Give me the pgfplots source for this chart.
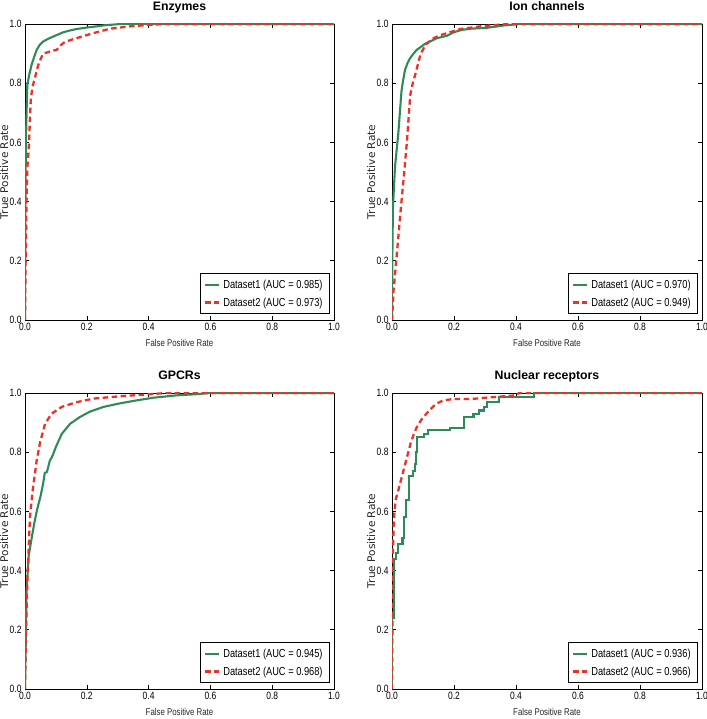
\documentclass[border=0pt]{standalone}
\usepackage{pgfplots}
\pgfplotsset{compat=1.18}
\usepackage{fontspec}
\setmainfont{Liberation Sans}
\newfontfamily\narrowfont[FakeStretch=0.8]{Liberation Sans}
\newfontfamily\labelfont{DejaVu Sans}
\definecolor{rocgreen}{RGB}{46,139,87}
\definecolor{rocred}{RGB}{236,50,36}
\pgfplotsset{
  rocax/.style={
    scale only axis, width=309bp, height=296bp,
    xmin=0, xmax=1, ymin=0, ymax=1,
    xtick={0,0.2,0.4,0.6,0.8,1}, ytick={0,0.2,0.4,0.6,0.8,1},
    xticklabels={0.0,0.2,0.4,0.6,0.8,1.0},
    yticklabels={0.0,0.2,0.4,0.6,0.8,1.0},
    tick align=inside, major tick length=4bp,
    tick style={black, line width=0.6bp},
    axis line style={black, line width=0.8bp},
    ticklabel style={font=\narrowfont\fontsize{10.6bp}{12bp}\selectfont},
    xlabel={False Positive Rate}, ylabel={True Positive Rate},
    xlabel style={at={(axis description cs:0.5,-0.078)}, anchor=center,
      font=\narrowfont\fontsize{9.8bp}{11bp}\selectfont, text=black!85},
    ylabel style={at={(axis description cs:-0.067,0.5)}, anchor=center,
      font=\labelfont\fontsize{10.6bp}{12bp}\selectfont, text=black!85},
    title style={at={(axis description cs:0.5,1.044)}, anchor=base, yshift=-6pt,
      font=\bfseries\fontsize{12.3bp}{14bp}\selectfont},
    legend cell align=left,
    legend style={at={(axis description cs:1,0)}, anchor=south east,
      xshift=-4bp, yshift=6bp, draw=black, line width=0.8bp, fill=white,
      font=\narrowfont\fontsize{11.6bp}{13bp}\selectfont,
      inner xsep=4bp, inner ysep=4.5bp, row sep=5bp,
      nodes={inner xsep=3bp, inner ysep=1.5bp}},
    legend image code/.code={\draw[#1] (0bp,0bp) -- (14bp,0bp);},
  },
  g/.style={rocgreen, line width=2.1bp, line join=round},
  r/.style={rocred, line width=2.3bp, dash pattern=on 5.5bp off 3.5bp},
}
\begin{document}
\begin{tikzpicture}
\useasboundingbox (0,0) rectangle (707bp,719bp);
% Enzymes
\begin{axis}[rocax, at={(25bp,399bp)}, anchor=south west, title={Enzymes}]
\addplot[g] coordinates {(0,0) (0.001,0.3) (0.002,0.5) (0.004,0.65) (0.006,0.74) (0.0075,0.795) (0.014,0.83) (0.0216,0.863) (0.03,0.89) (0.038,0.913) (0.048,0.93) (0.059,0.941) (0.075,0.95) (0.092,0.958) (0.11,0.966) (0.124,0.972) (0.145,0.978) (0.167,0.983) (0.2,0.988) (0.232,0.992) (0.26,0.996) (0.286,0.998) (0.31,1) (1,1)};
\addlegendentry{Dataset1 (AUC = 0.985)}
\addplot[r] coordinates {(0,0) (0.002,0.2) (0.005,0.4) (0.008,0.52) (0.013,0.592) (0.016,0.68) (0.019,0.75) (0.025,0.79) (0.032,0.818) (0.043,0.862) (0.052,0.885) (0.059,0.9) (0.075,0.905) (0.092,0.91) (0.103,0.913) (0.114,0.927) (0.126,0.937) (0.145,0.945) (0.167,0.952) (0.195,0.961) (0.221,0.969) (0.25,0.977) (0.275,0.984) (0.34,0.992) (0.415,0.998) (0.45,1) (1,1)};
\addlegendentry{Dataset2 (AUC = 0.973)}
\end{axis}
% Ion channels
\begin{axis}[rocax, at={(392bp,399bp)}, anchor=south west, width=310bp, title={Ion channels}]
\addplot[g] coordinates {(0,0) (0.001,0.2) (0.003,0.38) (0.0097,0.518) (0.0204,0.631) (0.026,0.71) (0.031,0.777) (0.036,0.81) (0.042,0.845) (0.05,0.868) (0.058,0.884) (0.068,0.898) (0.079,0.912) (0.095,0.924) (0.108,0.934) (0.125,0.942) (0.145,0.952) (0.177,0.96) (0.199,0.972) (0.225,0.98) (0.253,0.984) (0.306,0.987) (0.36,0.995) (0.414,1) (1,1)};
\addlegendentry{Dataset1 (AUC = 0.970)}
\addplot[r] coordinates {(0,0) (0.005,0.1) (0.014,0.203) (0.027,0.36) (0.038,0.484) (0.048,0.6) (0.054,0.69) (0.059,0.761) (0.067,0.8) (0.075,0.829) (0.0914,0.896) (0.108,0.93) (0.134,0.952) (0.155,0.962) (0.177,0.969) (0.22,0.983) (0.285,0.992) (0.35,0.998) (0.38,1) (1,1)};
\addlegendentry{Dataset2 (AUC = 0.949)}
\end{axis}
% GPCRs
\begin{axis}[rocax, at={(25bp,30bp)}, anchor=south west, title={GPCRs}]
\addplot[g] coordinates {(0,0) (0.003,0.19) (0.005,0.33) (0.012,0.45) (0.02,0.5) (0.03,0.56) (0.04,0.61) (0.05,0.65) (0.058,0.69) (0.064,0.73) (0.071,0.733) (0.08,0.77) (0.09,0.79) (0.1,0.818) (0.119,0.862) (0.146,0.896) (0.178,0.919) (0.21,0.937) (0.254,0.953) (0.307,0.965) (0.361,0.975) (0.415,0.984) (0.49,0.992) (0.555,0.996) (0.6,1) (1,1)};
\addlegendentry{Dataset1 (AUC = 0.945)}
\addplot[r] coordinates {(0,0) (0.003,0.19) (0.0075,0.36) (0.011,0.45) (0.016,0.58) (0.0248,0.67) (0.038,0.773) (0.049,0.834) (0.065,0.896) (0.086,0.93) (0.119,0.953) (0.167,0.969) (0.221,0.981) (0.307,0.989) (0.394,0.995) (0.458,1) (1,1)};
\addlegendentry{Dataset2 (AUC = 0.968)}
\end{axis}
% Nuclear receptors
\begin{axis}[rocax, at={(392bp,30bp)}, anchor=south west, width=310bp, title={Nuclear receptors}]
\addplot[g, line join=miter] coordinates {(0,0) (0,0.24) (0.007,0.24) (0.007,0.44) (0.014,0.44) (0.014,0.46) (0.02,0.46) (0.02,0.49) (0.034,0.49) (0.034,0.51) (0.04,0.51) (0.04,0.58) (0.045,0.58) (0.045,0.64) (0.056,0.64) (0.056,0.72) (0.067,0.72) (0.067,0.735) (0.073,0.735) (0.073,0.76) (0.078,0.76) (0.078,0.80) (0.082,0.80) (0.082,0.85) (0.102,0.85) (0.102,0.862) (0.115,0.862) (0.115,0.874) (0.188,0.874) (0.188,0.883) (0.231,0.883) (0.231,0.919) (0.263,0.919) (0.263,0.93) (0.280,0.93) (0.280,0.941) (0.296,0.941) (0.296,0.953) (0.306,0.953) (0.306,0.97) (0.344,0.97) (0.344,0.985) (0.458,0.985) (0.458,1) (1,1)};
\addlegendentry{Dataset1 (AUC = 0.936)}
\addplot[r] coordinates {(0,0) (0.002,0.3) (0.003,0.45) (0.005,0.55) (0.008,0.6) (0.012,0.64) (0.02,0.67) (0.03,0.71) (0.04,0.75) (0.05,0.79) (0.06,0.83) (0.07,0.86) (0.08,0.885) (0.095,0.91) (0.115,0.935) (0.14,0.962) (0.165,0.975) (0.2,0.98) (0.26,0.98) (0.3,0.984) (0.4,0.992) (0.41,1) (1,1)};
\addlegendentry{Dataset2 (AUC = 0.966)}
\end{axis}
\end{tikzpicture}
\end{document}
